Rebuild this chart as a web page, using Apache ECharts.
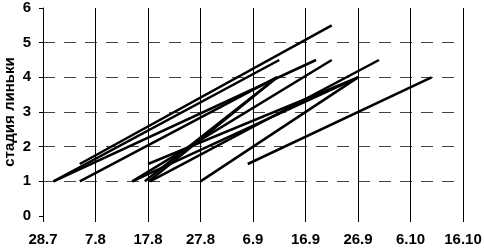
<!DOCTYPE html>
<html>
<head>
<meta charset="utf-8">
<script src="https://cdn.jsdelivr.net/npm/echarts@6/dist/echarts.min.js"></script>
<style>
html,body{margin:0;padding:0;background:#fff;}
#c{width:484px;height:248px;}
</style>
</head>
<body>
<div id="c"></div>
<script>
// x axis: days since 28.7, tick labels every 10 days
var xTickLabels = ['28.7', '7.8', '17.8', '27.8', '6.9', '16.9', '26.9', '6.10', '16.10'];
var yAxisName = 'стадия линьки';

// each segment: start (day, stage) -> end (day, stage)
var startDay   = [7,   2,   2,   7,    17,  20,  17,  19.4, 20.4, 30,  39,  20.2];
var startStage = [1.5, 1,   1,   1,    1,   1.5, 1,   1,    1,    1,   1.5, 1];
var endDay     = [55,  45,  52,  44.5, 55,  60,  60,  44.6, 64,   60,  74,  44.6];
var endStage   = [5.5, 4.5, 4.5, 4,    4.5, 4,   4,   4,    4.5,  4,   4,   4];

var series = startDay.map(function (d, i) {
  return {
    type: 'line',
    data: [[startDay[i], startStage[i]], [endDay[i], endStage[i]]],
    symbol: 'none',
    lineStyle: { color: '#000', width: 2.5 },
    silent: true,
    animation: false
  };
});

var font = { fontFamily: 'Liberation Sans, Arial, sans-serif', fontWeight: 'bold', fontSize: 15, color: '#000' };

var chart = echarts.init(document.getElementById('c'), null, { renderer: 'canvas' });
chart.setOption({
  animation: false,
  grid: { left: 43, right: 21, top: 8, bottom: 32, outerBoundsMode: 'none', containLabel: false },
  xAxis: {
    type: 'value', min: 0, max: 80, interval: 10,
    axisLine: { show: false },
    axisTick: { show: true, length: 6, lineStyle: { color: '#000', width: 1 } },
    splitLine: { show: true, lineStyle: { color: '#000', width: 1 } },
    axisLabel: Object.assign({ margin: 16, formatter: function (v) { return xTickLabels[Math.round(v / 10)]; } }, font)
  },
  yAxis: {
    type: 'value', min: 0, max: 6, interval: 1,
    name: yAxisName, nameLocation: 'middle', nameGap: 26, nameRotate: 90,
    nameMoveOverlap: false,
    nameTextStyle: font,
    axisLine: { show: true, lineStyle: { color: '#000', width: 1 } },
    axisTick: { show: true, length: 4, lineStyle: { color: '#000' } },
    splitLine: { show: true, showMinLine: false, showMaxLine: false, lineStyle: { color: '#444', width: 1, type: [12, 9] } },
    axisLabel: Object.assign({ margin: 12 }, font)
  },
  series: series
});
</script>
</body>
</html>
